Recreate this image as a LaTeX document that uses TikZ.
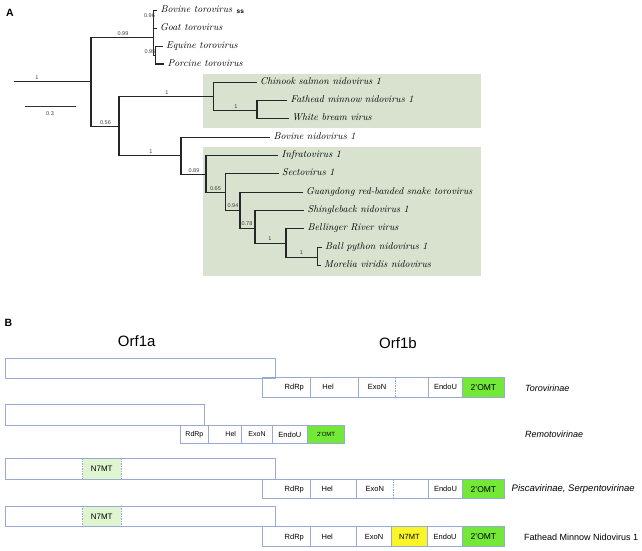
\documentclass[tikz,border=0pt]{standalone}
\usepackage{fontspec}
\setsansfont{Liberation Sans}
\usepackage{tikz}
\usetikzlibrary{positioning}
\definecolor{boxblue}{RGB}{150,170,210}
\definecolor{cladebg}{RGB}{216,226,207}
\definecolor{omtgreen}{RGB}{115,232,55}
\definecolor{mtpale}{RGB}{222,245,208}
\definecolor{mtyellow}{RGB}{250,245,40}

\begin{document}
\begin{tikzpicture}[
  x=1pt, y=-1pt,
  br/.style={line width=1.3pt, black!85},
  leaf/.style={anchor=west, inner xsep=3.5pt, inner ysep=0pt, text height=6.5pt, text depth=2pt, font=\fontsize{9.9}{10}\selectfont\itshape},
  boot/.style={inner sep=0pt, font=\sffamily\fontsize{5.5}{6}\selectfont, text=black!75},
  orfbox/.style={draw=boxblue, line width=0.8pt, anchor=north west, inner sep=0pt},
  cell/.style={anchor=north west, inner sep=0pt, text height=5.4pt, text depth=0pt, font=\sffamily\fontsize{7.5}{8}\selectfont},
  omt/.style={fill=omtgreen, text height=6.1pt, font=\sffamily\fontsize{8.5}{9}\selectfont},
  cw/.style={minimum width=#1},
  rowline/.style={draw=boxblue, line width=0.8pt},
  cut/.style={rowline, dash pattern=on 1.5pt off 1pt},
  family/.style={anchor=west, inner sep=0pt, font=\sffamily\fontsize{9}{10}\selectfont\itshape},
  panel/.style={inner sep=0pt, font=\sffamily\bfseries\fontsize{10.5}{12}\selectfont},
  orf/.style={inner sep=0pt, font=\sffamily\fontsize{15}{16}\selectfont}
]
\useasboundingbox (0,0) rectangle (642,551);

% A: tree
\fill[cladebg] (202.5,74) rectangle (480.6,127.7);
\fill[cladebg] (202.5,146.7) rectangle (480.6,276);

\node[panel] (pA) at (10,12.5) {A};

\node[leaf] (bovtoro) at (157,10.5) {Bovine torovirus};
\node[leaf] (goat) at (156.5,28.5) {Goat torovirus};
\node[leaf] (equine) at (162.5,46.5) {Equine torovirus};
\node[leaf] (porcine) at (164,64) {Porcine torovirus};
\node[leaf] (chinook) at (256.5,82.5) {Chinook salmon nidovirus 1};
\node[leaf] (fathead) at (287,100.5) {Fathead minnow nidovirus 1};
\node[leaf] (bream) at (288.5,118.5) {White bream virus};
\node[leaf] (bovnido) at (270,137.5) {Bovine nidovirus 1};
\node[leaf] (infrato) at (278,155.5) {Infratovirus 1};
\node[leaf] (secto) at (278.5,173.5) {Sectovirus 1};
\node[leaf] (guangdong) at (302.5,192.5) {Guangdong red-banded snake torovirus};
\node[leaf] (shingle) at (304,210.5) {Shingleback nidovirus 1};
\node[leaf] (bellinger) at (304,228.5) {Bellinger River virus};
\node[leaf] (python) at (321.5,247.5) {Ball python nidovirus 1};
\node[leaf] (morelia) at (320.5,265.5) {Morelia viridis nidovirus};
\node[anchor=west, inner sep=0pt, font=\sffamily\bfseries\fontsize{6.5}{7}\selectfont] (ss) at (236.5,11.5) {ss};

\coordinate (root) at (14,81.5);
\coordinate (nR) at (91,81.5);
\coordinate (nT) at (153.5,37.5);
\coordinate (nTE) at (155.5,55.5);
\coordinate (n56) at (119,126.5);
\coordinate (nF) at (213.5,96.5);
\coordinate (nF2) at (257,110.5);
\coordinate (nB) at (181,155.5);
\coordinate (n89) at (206,174.5);
\coordinate (n65) at (225.5,192.5);
\coordinate (n94) at (240,210.5);
\coordinate (n78) at (255,228.5);
\coordinate (nS) at (286,243.5);
\coordinate (nP) at (317.7,257.5);

\draw[br] (root) -- (nR);
\draw[br] (nT) -| (nR) |- (n56);
\draw[br] (bovtoro.west) -| (nT) |- (nTE);
\draw[br] (goat.west) -- (nT |- goat.west);
\draw[br] (equine.west) -| (nTE) |- (porcine.west);
\draw[br] (nF) -| (n56) |- (nB);
\draw[br] (chinook.west) -| (nF) |- (nF2);
\draw[br] (fathead.west) -| (nF2) |- (bream.west);
\draw[br] (bovnido.west) -| (nB) |- (n89);
\draw[br] (infrato.west) -| (n89) |- (n65);
\draw[br] (secto.west) -| (n65) |- (n94);
\draw[br] (guangdong.west) -| (n94) |- (n78);
\draw[br] (shingle.west) -| (n78) |- (nS);
\draw[br] (bellinger.west) -| (nS) |- (nP);
\draw[br] (python.west) -| (nP) |- (morelia.west);

\node[boot] (b1) at (37,77.5) {1};
\node[boot] (b99) at (123,33.5) {0.99};
\node[boot] (b96) at (149.5,15.5) {0.96};
\node[boot] (b95) at (150,52) {0.95};
\node[boot] (b56) at (105.5,122.5) {0.56};
\node[boot] (bF) at (167,92.5) {1};
\node[boot] (bF2) at (236,106.3) {1};
\node[boot] (bB) at (151,152) {1};
\node[boot] (b89) at (194,170.5) {0.89};
\node[boot] (b65) at (215.5,188.5) {0.65};
\node[boot] (b94) at (233,206) {0.94};
\node[boot] (b78) at (247,223.5) {0.78};
\node[boot] (bS) at (270,239) {1};
\node[boot] (bP) at (301.5,253) {1};

\coordinate (sb0) at (25,106.5);
\coordinate (sb1) at (76,106.5);
\draw[line width=0.9pt, black!80] (sb0) -- (sb1);
\node[boot] (sbl) at (50,113.5) {0.3};

% B: genome maps
\node[panel] (pB) at (8.5,323) {B};
\node[orf] (orfa) at (136.7,341.5) {Orf1a};
\node[orf] (orfb) at (398,343) {Orf1b};

% Torovirinae
\node[orfbox, cw=270.3pt, minimum height=19.8pt] (top1) at (5,357.7) {};
\node[cell, minimum height=19pt, cw=47.7pt, text width=35pt, align=right] (r1rdrp) at (262.3,377.5) {RdRp};
\node[cell, minimum height=19pt, cw=47.7pt, text width=24pt, align=left] (r1hel) at (r1rdrp.north east) {Hel};
\node[cell, minimum height=19pt, cw=36.6pt] (r1exon) at (r1hel.north east) {ExoN};
\node[cell, minimum height=19pt, cw=32.4pt] (r1gap) at (r1exon.north east) {};
\node[cell, minimum height=19pt, cw=34pt] (r1endo) at (r1gap.north east) {EndoU};
\node[cell, omt, minimum height=19pt, cw=41pt] (r1omt) at (r1endo.north east) {2’OMT};
\draw[rowline] (r1rdrp.north west) rectangle (r1omt.south east);
\foreach \c in {r1rdrp,r1hel,r1gap,r1endo}
  \draw[rowline] (\c.north east) -- (\c.south east);
\draw[cut] (r1exon.north east) -- (r1exon.south east);
\node[family] (toro) at (525,388) {Torovirinae};

% Remotovirinae
\node[orfbox, cw=199pt, minimum height=20.7pt] (top2) at (5,404.3) {};
\node[cell, minimum height=18.3pt, cw=27pt, text height=5pt, font=\sffamily\fontsize{7}{8}\selectfont] (r2rdrp) at (180.7,425) {RdRp};
\node[cell, minimum height=18.3pt, cw=33.3pt, text width=22pt, align=right, text height=5pt, font=\sffamily\fontsize{7}{8}\selectfont] (r2hel) at (r2rdrp.north east) {Hel};
\node[cell, minimum height=18.3pt, cw=30pt, text height=5pt, font=\sffamily\fontsize{7}{8}\selectfont] (r2exon) at (r2hel.north east) {ExoN};
\node[cell, minimum height=18.3pt, cw=35pt] (r2endo) at (r2exon.north east) {EndoU};
\node[cell, omt, minimum height=18.3pt, cw=36.7pt, text height=4.3pt, font=\sffamily\fontsize{6}{7}\selectfont] (r2omt) at (r2endo.north east) {2’OMT};
\draw[rowline] (r2rdrp.north west) rectangle (r2omt.south east);
\foreach \c in {r2rdrp,r2hel,r2exon,r2endo}
  \draw[rowline] (\c.north east) -- (\c.south east);
\node[family] (remoto) at (525,434.5) {Remotovirinae};

% Piscavirinae, Serpentovirinae
\node[cell, cw=38.4pt, minimum height=21pt, fill=mtpale, text height=5.7pt, font=\sffamily\fontsize{8}{9}\selectfont] (t3mt) at (82.3,458.3) {N7MT};
\node[orfbox, cw=270.3pt, minimum height=21pt] (top3) at (5,458.3) {};
\draw[cut] (t3mt.north west) -- (t3mt.south west);
\draw[cut] (t3mt.north east) -- (t3mt.south east);
\node[cell, minimum height=19pt, cw=47.7pt, text width=35pt, align=right] (r3rdrp) at (262.3,479.3) {RdRp};
\node[cell, minimum height=19pt, cw=46pt, text width=24pt, align=left] (r3hel) at (r3rdrp.north east) {Hel};
\node[cell, minimum height=19pt, cw=35.7pt] (r3exon) at (r3hel.north east) {ExoN};
\node[cell, minimum height=19pt, cw=35pt] (r3gap) at (r3exon.north east) {};
\node[cell, minimum height=19pt, cw=34pt] (r3endo) at (r3gap.north east) {EndoU};
\node[cell, omt, minimum height=19pt, cw=41pt] (r3omt) at (r3endo.north east) {2’OMT};
\draw[rowline] (r3rdrp.north west) rectangle (r3omt.south east);
\foreach \c in {r3rdrp,r3hel,r3gap,r3endo}
  \draw[rowline] (\c.north east) -- (\c.south east);
\draw[cut] (r3exon.north east) -- (r3exon.south east);
\node[family, font=\sffamily\fontsize{9.5}{10}\selectfont\itshape] (pisca) at (511.5,489) {Piscavirinae, Serpentovirinae};

% Fathead minnow nidovirus 1
\node[cell, cw=38.4pt, minimum height=20.6pt, fill=mtpale, text height=5.7pt, font=\sffamily\fontsize{8}{9}\selectfont] (t4mt) at (82.3,505.7) {N7MT};
\node[orfbox, cw=270.3pt, minimum height=20.6pt] (top4) at (5,505.7) {};
\draw[cut] (t4mt.north west) -- (t4mt.south west);
\draw[cut] (t4mt.north east) -- (t4mt.south east);
\node[cell, minimum height=19.7pt, cw=47.7pt, text width=35pt, align=right] (r4rdrp) at (262.3,526.3) {RdRp};
\node[cell, minimum height=19.7pt, cw=46pt, text width=24pt, align=left] (r4hel) at (r4rdrp.north east) {Hel};
\node[cell, minimum height=19.7pt, cw=34pt] (r4exon) at (r4hel.north east) {ExoN};
\node[cell, minimum height=19.7pt, cw=36pt, fill=mtyellow] (r4mt) at (r4exon.north east) {N7MT};
\node[cell, minimum height=19.7pt, cw=34.7pt] (r4endo) at (r4mt.north east) {EndoU};
\node[cell, omt, minimum height=19.7pt, cw=41pt] (r4omt) at (r4endo.north east) {2’OMT};
\draw[rowline] (r4rdrp.north west) rectangle (r4omt.south east);
\foreach \c in {r4rdrp,r4hel,r4exon,r4mt,r4endo}
  \draw[rowline] (\c.north east) -- (\c.south east);
\node[family, font=\sffamily\fontsize{9}{10}\selectfont] (fhmn) at (524,537) {Fathead Minnow Nidovirus 1};
\end{tikzpicture}
\end{document}
